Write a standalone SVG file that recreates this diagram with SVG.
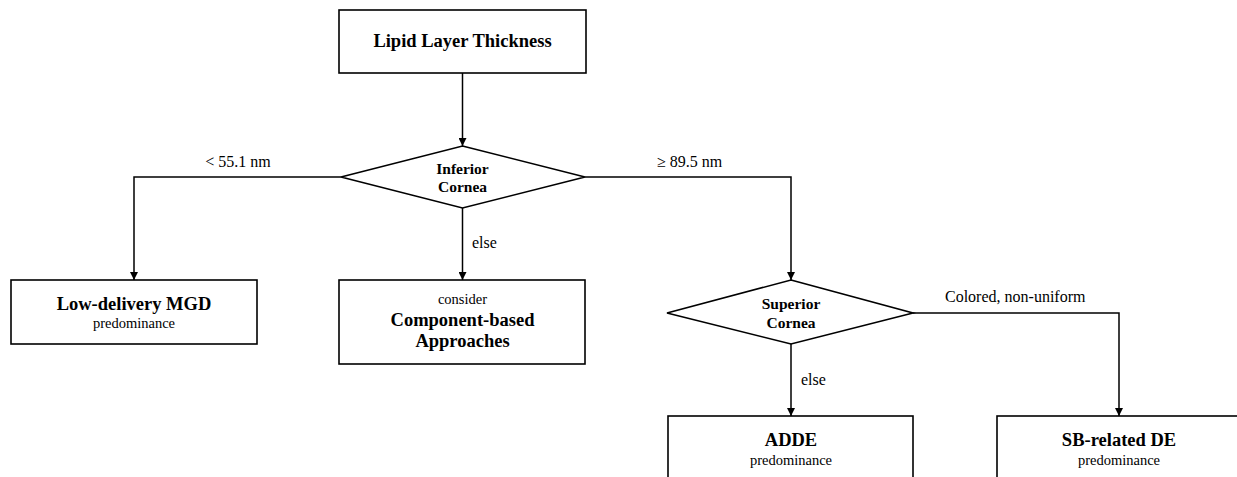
<svg xmlns="http://www.w3.org/2000/svg" width="1237" height="477" viewBox="0 0 1237 477">
<defs>
<marker id="arr" viewBox="0 0 10 10" refX="10" refY="5" markerWidth="8" markerHeight="8" markerUnits="userSpaceOnUse" orient="auto">
<path d="M0,0 L10,5 L0,10 z" fill="#000"/>
</marker>
<style>
.box{fill:#fff;stroke:#000;stroke-width:1.6}
.edge{fill:none;stroke:#000;stroke-width:1.5;marker-end:url(#arr)}
text{font-family:"Liberation Serif","Times New Roman",serif;fill:#000}
.t{font-size:18.5px;font-weight:bold;text-anchor:middle}
.d{font-size:15.5px;font-weight:bold;text-anchor:middle}
.s{font-size:14.5px;text-anchor:middle}
.l{font-size:16px}
</style>
</defs>
<rect width="1237" height="477" fill="#fff"/>
<g id="connectors">
<path class="edge" d="M462.5,73 V146"/>
<path class="edge" d="M341,177 H134 V280"/>
<path class="edge" d="M462.5,208 V280"/>
<path class="edge" d="M585,177 H791 V280"/>
<path class="edge" d="M913,313 H1119 V416"/>
<path class="edge" d="M791,344 V416"/>
<text class="l" x="238" y="167" text-anchor="middle">&lt; 55.1 nm</text>
<text class="l" x="657" y="167">≥ 89.5 nm</text>
<text class="l" x="472" y="248">else</text>
<text class="l" x="801" y="385">else</text>
<text class="l" x="945" y="302">Colored, non-uniform</text>
</g>
<g id="lipid">
<rect class="box" x="339" y="10" width="247" height="63"/>
<text class="t" x="462.5" y="47">Lipid Layer Thickness</text>
</g>
<g id="inferior">
<polygon class="box" points="462.5,146 585,177 462.5,208 341,177"/>
<text class="d" x="462.5" y="174">Inferior</text>
<text class="d" x="462.5" y="192">Cornea</text>
</g>
<g id="lowdelivery">
<rect class="box" x="11" y="280" width="246" height="64"/>
<text class="t" x="134" y="310">Low-delivery MGD</text>
<text class="s" x="134" y="328">predominance</text>
</g>
<g id="component">
<rect class="box" x="339" y="280" width="246" height="84"/>
<text class="s" x="462.5" y="304">consider</text>
<text class="t" x="462.5" y="326">Component-based</text>
<text class="t" x="462.5" y="347">Approaches</text>
</g>
<g id="superior">
<polygon class="box" points="791,280 913,313 791,344 667,313"/>
<text class="d" x="791" y="309">Superior</text>
<text class="d" x="791" y="328">Cornea</text>
</g>
<g id="adde">
<rect class="box" x="668" y="416" width="245" height="80"/>
<text class="t" x="791" y="446">ADDE</text>
<text class="s" x="791" y="465">predominance</text>
</g>
<g id="sbde">
<rect class="box" x="997" y="416" width="244" height="80"/>
<text class="t" x="1119" y="446">SB-related DE</text>
<text class="s" x="1119" y="465">predominance</text>
</g>
</svg>
